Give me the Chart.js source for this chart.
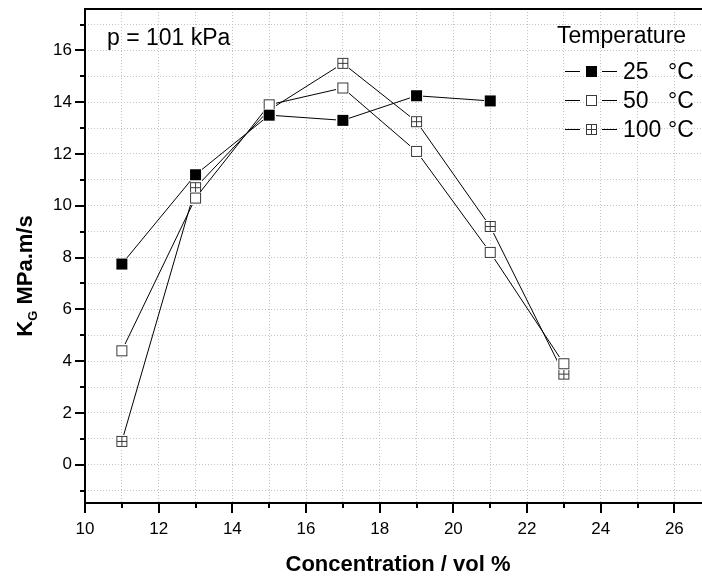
<!DOCTYPE html>
<html lang="en">
<head>
    <meta charset="UTF-8">
    <title>K_G vs Concentration</title>
    <script src="https://cdn.jsdelivr.net/npm/chart.js@4.4.0/dist/chart.umd.min.js"></script>
    <style>
        body { margin: 0; background: #fff; }
        #kgChart { display: block; }
    </style>
</head>
<body>
    <canvas id="kgChart" width="702" height="576"></canvas>

    <script>
        // values
        const concentration = [11, 13, 15, 17, 19, 21, 23];
        const kg25 = [7.75, 11.2, 13.5, 13.3, 14.25, 14.05];
        const kg50 = [4.4, 10.3, 13.9, 14.55, 12.1, 8.2, 3.9];
        const kg100 = [0.9, 10.7, 13.7, 15.5, 13.25, 9.2, 3.5];
        const seriesLabels = ['25', '50', '100'];

        const xTicks = [10, 11, 12, 13, 14, 15, 16, 17, 18, 19, 20, 21, 22, 23, 24, 25, 26];
        const xTickLabels = [10, 12, 14, 16, 18, 20, 22, 24, 26];
        const yTicks = [-1, 0, 1, 2, 3, 4, 5, 6, 7, 8, 9, 10, 11, 12, 13, 14, 15, 16, 17];
        const yTickLabels = [0, 2, 4, 6, 8, 10, 12, 14, 16];

        const FONT = 'Arial, "Liberation Sans", sans-serif';

        // square markers, optional white halo so lines stop short of the symbol
        function makeMarker(kind, size, halo) {
            const c = document.createElement('canvas');
            const full = size + 2 * halo;
            c.width = full; c.height = full;
            const g = c.getContext('2d');
            if (halo) {
                g.fillStyle = '#fff';
                g.fillRect(0, 0, full, full);
            }
            g.translate(halo, halo);
            if (kind === 'filled') {
                g.fillStyle = '#000';
                g.fillRect(0, 0, size, size);
            } else {
                g.fillStyle = '#fff';
                g.fillRect(0, 0, size, size);
                g.strokeStyle = '#3a3a3a';
                g.lineWidth = 1;
                g.strokeRect(0.5, 0.5, size - 1, size - 1);
                if (kind === 'plus') {
                    const m = Math.floor(size / 2) + 0.5;
                    g.beginPath();
                    g.moveTo(m, 0); g.lineTo(m, size);
                    g.moveTo(0, m); g.lineTo(size, m);
                    g.stroke();
                }
            }
            return c;
        }

        const markers = [makeMarker('filled', 11, 1), makeMarker('open', 11, 1), makeMarker('plus', 11, 1)];
        const legendMarkers = [makeMarker('filled', 11, 0), makeMarker('open', 11, 0), makeMarker('plus', 11, 0)];

        const toPoints = (ys) => ys.map((y, i) => ({ x: concentration[i], y: y }));

        const isTick = (list, v) => list.some(t => Math.abs(t - v) < 1e-6);

        const extrasPlugin = {
            id: 'extras',
            afterDraw(chart) {
                const ctx = chart.ctx;
                const area = chart.chartArea;
                const xs = chart.scales.x, ys = chart.scales.y;
                ctx.save();
                ctx.setLineDash([]);
                ctx.strokeStyle = '#000';

                // ticks (major long, minor short), pointing outwards
                ctx.lineWidth = 2;
                xTicks.forEach(v => {
                    const px = Math.round(xs.getPixelForValue(v));
                    const len = isTick(xTickLabels, v) ? 10 : 5;
                    ctx.beginPath();
                    ctx.moveTo(px, area.bottom);
                    ctx.lineTo(px, area.bottom + len);
                    ctx.stroke();
                });
                yTicks.forEach(v => {
                    const py = Math.round(ys.getPixelForValue(v));
                    const len = isTick(yTickLabels, v) ? 10 : 5;
                    ctx.beginPath();
                    ctx.moveTo(area.left, py);
                    ctx.lineTo(area.left - len, py);
                    ctx.stroke();
                });

                // axes + top border
                ctx.beginPath();
                ctx.moveTo(area.right, area.bottom);
                ctx.lineTo(area.left, area.bottom);
                ctx.lineTo(area.left, area.top);
                ctx.lineTo(area.right, area.top);
                ctx.stroke();

                ctx.fillStyle = '#000';

                // x axis title
                ctx.font = 'bold 22px ' + FONT;
                ctx.textAlign = 'center';
                ctx.textBaseline = 'alphabetic';
                ctx.fillText('Concentration / vol %', 398, 571);

                // y axis title with subscript
                ctx.save();
                ctx.translate(32, 276);
                ctx.rotate(-Math.PI / 2);
                ctx.textAlign = 'left';
                const main = 'bold 22px ' + FONT;
                const sub = 'bold 13px ' + FONT;
                ctx.font = main;
                const wK = ctx.measureText('K').width;
                const wRest = ctx.measureText(' MPa.m/s').width;
                ctx.font = sub;
                const wG = ctx.measureText('G').width;
                const x0 = -(wK + wG + wRest) / 2;
                ctx.font = main;
                ctx.fillText('K', x0, 0);
                ctx.font = sub;
                ctx.fillText('G', x0 + wK, 5);
                ctx.font = main;
                ctx.fillText(' MPa.m/s', x0 + wK + wG, 0);
                ctx.restore();

                // pressure note
                ctx.font = '23px ' + FONT;
                ctx.textAlign = 'left';
                ctx.fillText('p = 101 kPa', 107, 45);

                // legend
                ctx.fillText('Temperature', 557, 43);
                ctx.lineWidth = 1;
                seriesLabels.forEach((lab, i) => {
                    const cy = 71 + i * 29;
                    ctx.beginPath();
                    ctx.moveTo(565, cy + 0.5); ctx.lineTo(580, cy + 0.5);
                    ctx.moveTo(602, cy + 0.5); ctx.lineTo(617, cy + 0.5);
                    ctx.stroke();
                    const m = legendMarkers[i];
                    ctx.drawImage(m, 586, cy - 5);
                    ctx.fillText(lab, 623, cy + 8);
                    ctx.fillText('\u00B0C', 668, cy + 8);
                });
                ctx.restore();
            }
        };

        const lineStyle = (pts, idx) => ({
            data: pts,
            borderColor: '#000',
            borderWidth: 1,
            tension: 0,
            fill: false,
            pointStyle: markers[idx],
            pointRadius: 6,
            pointHoverRadius: 6
        });

        new Chart(document.getElementById('kgChart'), {
            type: 'line',
            data: {
                datasets: [
                    Object.assign({ label: seriesLabels[0] + ' °C' }, lineStyle(toPoints(kg25), 0)),
                    Object.assign({ label: seriesLabels[1] + ' °C' }, lineStyle(toPoints(kg50), 1)),
                    Object.assign({ label: seriesLabels[2] + ' °C' }, lineStyle(toPoints(kg100), 2))
                ]
            },
            options: {
                responsive: false,
                animation: false,
                events: [],
                layout: { autoPadding: false, padding: { top: 9, right: 0, left: 0, bottom: 0 } },
                plugins: { legend: { display: false }, tooltip: { enabled: false } },
                scales: {
                    x: {
                        type: 'linear',
                        min: 10,
                        max: 26.75,
                        afterBuildTicks: s => { s.ticks = xTicks.map(v => ({ value: v })); },
                        afterFit: s => { s.height = 73; s.paddingLeft = 0; s.paddingRight = 0; },
                        ticks: {
                            autoSkip: false,
                            maxRotation: 0,
                            padding: 6,
                            color: '#000',
                            font: { family: FONT, size: 17 },
                            callback: v => isTick(xTickLabels, v) ? String(v) : ''
                        },
                        grid: { color: '#c4c4c4', lineWidth: 1, tickLength: 10, tickColor: 'rgba(0,0,0,0)' },
                        border: { display: false, dash: [1, 2] }
                    },
                    y: {
                        type: 'linear',
                        min: -1.48,
                        max: 17.6,
                        afterBuildTicks: s => { s.ticks = yTicks.map(v => ({ value: v })); },
                        afterFit: s => { s.width = 85; s.paddingTop = 0; s.paddingBottom = 0; },
                        ticks: {
                            autoSkip: false,
                            padding: 3,
                            color: '#000',
                            font: { family: FONT, size: 17 },
                            callback: v => isTick(yTickLabels, v) ? String(v) : ''
                        },
                        grid: { color: '#c4c4c4', lineWidth: 1, tickLength: 10, tickColor: 'rgba(0,0,0,0)' },
                        border: { display: false, dash: [1, 2] }
                    }
                }
            },
            plugins: [extrasPlugin]
        });
    </script>
</body>
</html>
